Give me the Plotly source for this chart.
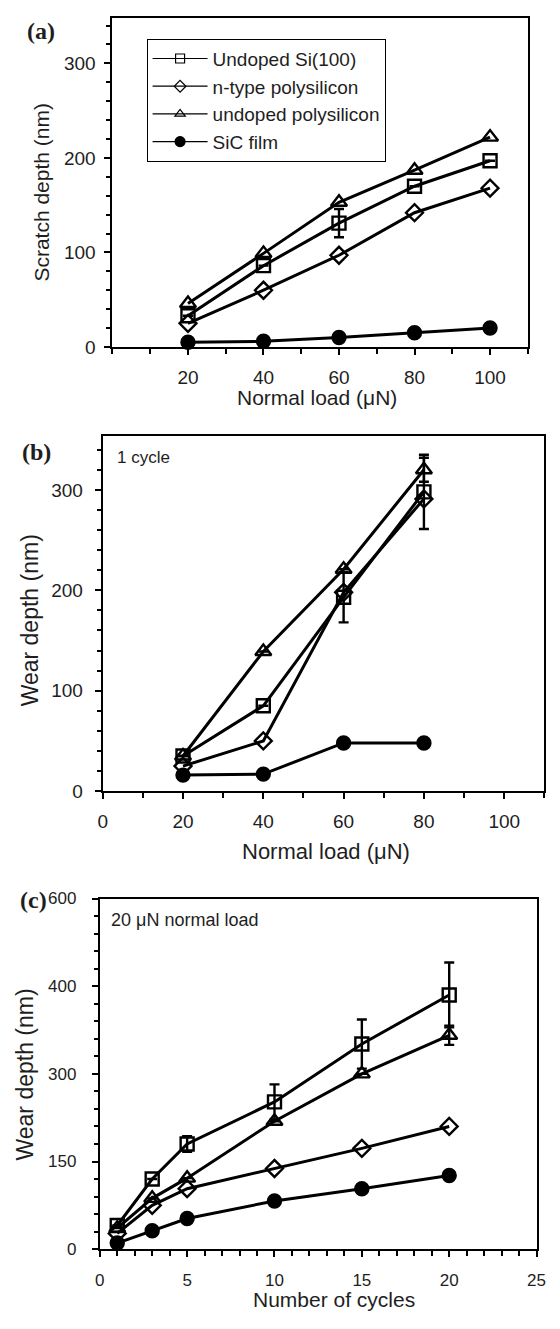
import plotly.graph_objects as go

W, H = 560, 1329
OFF = 8  # the page body adds a default margin around the figure

# panel (a): scratch depth vs normal load
load_a = [20, 40, 60, 80, 100]
si_a = [33, 86, 131, 170, 197]
si_a_err = [0, 0, 15, 0, 0]
ntype_a = [25, 60, 97, 142, 168]
undoped_a = [46, 99, 153, 187, 222]
sic_a = [5, 6, 10, 15, 20]

# panel (b): wear depth, 1 cycle
load_b = [20, 40, 60, 80]
si_b = [35, 85, 193, 298]
si_b_err = [0, 0, 25, 37]
ntype_b = [25, 50, 198, 291]
undoped_b = [35, 139, 221, 320]
undoped_b_err = [0, 0, 0, 12]
sic_b = [16, 17, 48, 48]

# panel (c): wear depth vs cycles, 20 uN (values in axis units, labels below)
cycles_c = [1, 3, 5, 10, 15, 20]
si_c = [27, 80, 120, 168, 234, 290]
si_c_err = [0, 0, 9, 20, 28, 37]
ntype_c = [18, 50, 69, 92, 115, 140]
undoped_c = [24, 58, 81, 146, 200, 244]
undoped_c_err = [0, 0, 0, 0, 0, 11]
sic_c = [7, 21, 35, 55, 69, 84]
c_tickvals = [0, 100, 200, 300, 400]
c_ticktext = ['0', '150', '300', '400', '600']

names = ['Undoped Si(100)', 'n-type polysilicon', 'undoped polysilicon', 'SiC film']
symbols = ['square-open', 'diamond-open', 'triangle-up-open', 'circle']
sizes = [13, 13, 14, 13]

FONT = 'Liberation Sans, Arial, sans-serif'
SERIF = 'Liberation Serif, Times New Roman, serif'
INK = '#1e1e1e'


def fx(x):
    return (x - OFF) / W


def fy(y):
    return 1 - (y - OFF) / H


def px_x(a, b):
    return [fx(a), fx(b)]


def px_y(top, bottom):
    return [fy(bottom), fy(top)]


fig = go.Figure()


def add_series(x, ys, errs, xa, ya):
    for i, y in enumerate(ys):
        e = errs[i]
        fig.add_trace(go.Scatter(
            x=x, y=y, xaxis=xa, yaxis=ya, mode='lines+markers',
            line=dict(color='black', width=3),
            marker=dict(symbol=symbols[i], size=sizes[i], color='black',
                        line=dict(color='black', width=2.4)),
            error_y=dict(type='data', array=e, visible=True, color='black',
                         thickness=2.4, width=5) if e else None,
            showlegend=False, cliponaxis=False, name=names[i]))


add_series(load_a, [si_a, ntype_a, undoped_a, sic_a], [si_a_err, None, None, None], 'x', 'y')
add_series(load_b, [si_b, ntype_b, undoped_b, sic_b], [si_b_err, None, undoped_b_err, None], 'x2', 'y2')
add_series(cycles_c, [si_c, ntype_c, undoped_c, sic_c], [si_c_err, None, undoped_c_err, None], 'x3', 'y3')

# thin legend entries for panel (a)
for i in range(4):
    fig.add_trace(go.Scatter(
        x=[None], y=[None], xaxis='x', yaxis='y', mode='lines+markers', name=names[i],
        line=dict(color='black', width=1.2),
        marker=dict(symbol=symbols[i], size=9 if i != 3 else 10, color='black',
                    line=dict(color='black', width=1.2)),
        showlegend=True))


def axis(size, standoff, **kw):
    d = dict(showline=True, linecolor='black', linewidth=2, mirror=True,
             showgrid=False, zeroline=False, ticks='outside', tickcolor='black',
             tickwidth=1.5, ticklen=6, ticklabelstandoff=standoff,
             tickfont=dict(family=FONT, size=size, color=INK))
    d.update(kw)
    return d


fig.update_layout(
    width=W, height=H, margin=dict(l=0, r=0, t=0, b=0),
    paper_bgcolor='white', plot_bgcolor='white',
    font=dict(family=FONT, color=INK),
    xaxis=axis(19, 6, domain=px_x(110, 536), range=[0, 110], tickvals=load_a, anchor='y',
               minor=dict(ticks='outside', dtick=10, tick0=0, ticklen=5, tickcolor='black')),
    yaxis=axis(19, 5, domain=px_y(9, 343), range=[0, 348], dtick=100, anchor='x',
               minor=dict(ticks='outside', dtick=20, ticklen=4, tickcolor='black')),
    xaxis2=axis(19, 6, domain=px_x(100, 553), range=[0, 110], dtick=20, anchor='y2',
                minor=dict(ticks='outside', dtick=10, tick0=0, ticklen=5, tickcolor='black')),
    yaxis2=axis(19, 8, domain=px_y(433, 794), range=[0, 354], dtick=100, anchor='x2',
                minor=dict(ticks='outside', dtick=20, ticklen=4, tickcolor='black')),
    xaxis3=axis(17, 8, domain=px_x(97, 545), range=[0, 25], dtick=5, anchor='y3',
                minor=dict(ticks='outside', dtick=1, tick0=0, ticklen=5, tickcolor='black')),
    yaxis3=axis(17, 12, domain=px_y(903, 1259), range=[0, 400], tickvals=c_tickvals,
                ticktext=c_ticktext, anchor='x3',
                minor=dict(ticks='outside', dtick=20, ticklen=4, tickcolor='black')),
    legend=dict(x=fx(145), y=fy(30), xanchor='left', yanchor='top',
                bordercolor='black', borderwidth=1, bgcolor='white',
                font=dict(family=FONT, size=19, color=INK),
                itemwidth=55, tracegroupgap=0),
)

ann = [
    dict(text='<b>(a)</b>', x=20, y=22, size=24, family=SERIF, anchor='left'),
    dict(text='<b>(b)</b>', x=15, y=450, size=24, family=SERIF, anchor='left'),
    dict(text='<b>(c)</b>', x=13, y=904, size=24, family=SERIF, anchor='left'),
    dict(text='Normal load (\u03bcN)', x=320, y=394, size=21, family=FONT, anchor='center'),
    dict(text='Normal load (\u03bcN)', x=329, y=855, size=22, family=FONT, anchor='center'),
    dict(text='Number of cycles', x=337, y=1310, size=21, family=FONT, anchor='center'),
    dict(text='1 cycle', x=113, y=455, size=17, family=FONT, anchor='left'),
    dict(text='20 \u03bcN normal load', x=106, y=925, size=18, family=FONT, anchor='left'),
]
for a in ann:
    fig.add_annotation(text=a['text'], x=fx(a['x']), y=fy(a['y']), xref='paper', yref='paper',
                       xanchor=a['anchor'], yanchor='middle', showarrow=False,
                       font=dict(family=a['family'], size=a['size'], color=INK))

vt = [
    ('Scratch depth (nm)', 37, 186, 21),
    ('Wear depth (nm)', 25, 621, 23),
    ('Wear depth (nm)', 20, 1082, 23),
]
for t, x, y, s in vt:
    fig.add_annotation(text=t, x=fx(x), y=fy(y), xref='paper', yref='paper', textangle=-90,
                       xanchor='center', yanchor='middle', showarrow=False,
                       font=dict(family=FONT, size=s, color=INK))

fig.write_html("out.html")
